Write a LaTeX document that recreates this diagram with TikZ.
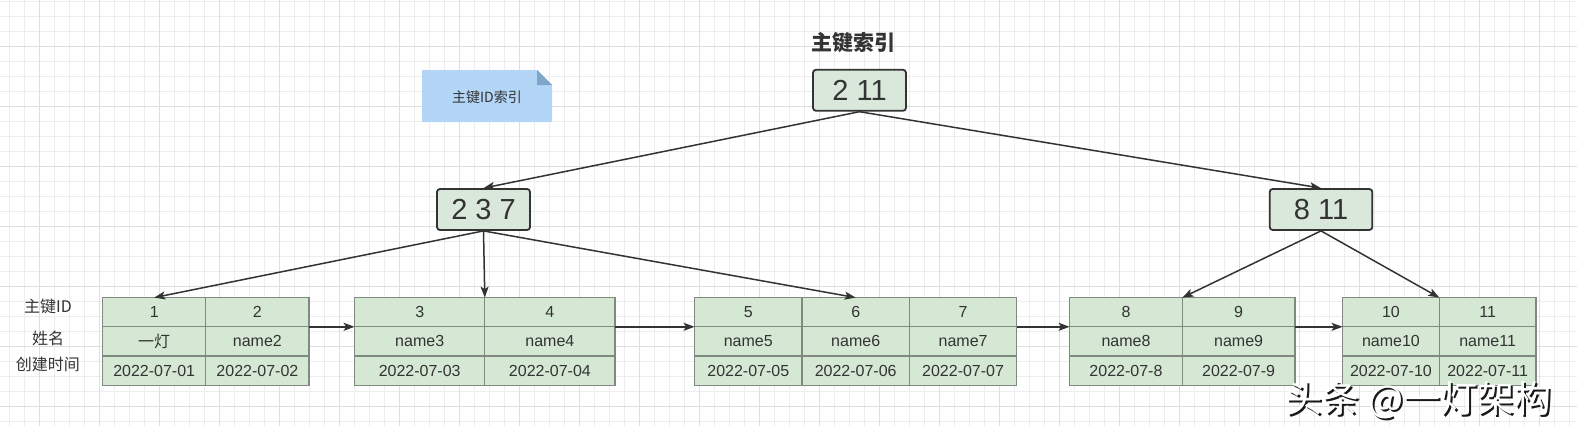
\documentclass[tikz,border=0pt]{standalone}
\usepackage{fontspec}
\setmainfont{Liberation Sans}
\newfontfamily\cjk{Noto Sans CJK SC}
\usetikzlibrary{arrows.meta}

\definecolor{ink}{HTML}{333333}
\definecolor{leafgreen}{HTML}{D5E8D4}
\definecolor{leafline}{HTML}{808A80}
\definecolor{keygreen}{HTML}{DAE8DB}
\definecolor{noteblue}{HTML}{B3D6F7}
\definecolor{notefold}{HTML}{7EA6CB}
\definecolor{gridminor}{HTML}{EDEDED}
\definecolor{gridmajor}{HTML}{DEDEDE}

\begin{document}
\begin{tikzpicture}
	[x=1pt, y=-1pt,
		keybox/.style	={rectangle
									, rounded corners=3pt
									, draw=ink
									, line width=1.8pt, fill=keygreen
									, minimum width=93pt
									, minimum height=41pt
									, text=ink
									, font=\fontsize{29}{32}\selectfont
									},
		cell/.style		={rectangle
									, draw=leafline
									, line width=1.2pt, fill=leafgreen
									, minimum height=29.2pt
									, inner sep=1pt, outer sep=0pt
									, text=ink
									, font=\fontsize{16}{18}\selectfont
									},
		leaf/.style		={matrix
									, inner sep=0pt, outer sep=0pt
									, column sep=-1.2pt, row sep=-1.2pt
									, anchor=north west
									, nodes={cell}
									},
		rowname/.style	={text=ink
									, font=\cjk\fontsize{16}{18}\selectfont
									},
		line/.style		 	={draw
									, ink
									, line width=1.5pt
									, -{Stealth[length=11pt,width=8pt,inset=2.5pt]}
									},
		watermark/.style	={font=\cjk\fontsize{37}{40}\selectfont
									}
	]
\useasboundingbox (0,0) rectangle (1577,426);
% grid
\foreach \gx in {9.3,24.3,...,1577}
	\draw[gridminor, line width=0.8pt] (\gx,0) -- (\gx,426);
\foreach \gy in {1,16,...,426}
	\draw[gridminor, line width=0.8pt] (0,\gy) -- (1577,\gy);
\foreach \gx in {39.3,99.3,...,1577}
	\draw[gridmajor, line width=1pt] (\gx,0) -- (\gx,426);
\foreach \gy in {46,106,...,426}
	\draw[gridmajor, line width=1pt] (0,\gy) -- (1577,\gy);

% note
\fill[noteblue] (422,70) -- (537,70) -- (552,85) -- (552,122) -- (422,122) -- cycle;
\fill[notefold] (537,70) -- (537,85) -- (552,85) -- cycle;
\node [text=ink, font=\cjk\fontsize{14}{16}\selectfont] (note) at (487,97) {主键ID索引};

% index nodes
\node [text=ink, font=\cjk\bfseries\fontsize{21}{24}\selectfont] (title) at (853,43) {主键索引};
\node [keybox] (root) at (859.5,90.3) {2 11};
\node [keybox] (n237) at (483.5,209.5) {2 3 7};
\node [keybox, minimum width=102.6pt] (n811) at (1321,209.5) {8 11};

% row names
\node [rowname] (rowid)   at (48,306.7) {主键ID};
\node [rowname] (rowname) at (48,338)   {姓名};
\node [rowname] (rowtime) at (48,364)   {创建时间};

% leaves
\matrix [leaf, nodes={minimum width=103.2pt}] (leaf1) at (102,297)
	{
		\node (k1) {1}; & \node (k2) {2}; \\
		\node (n1) {\cjk 一灯}; & \node (n2) {name2}; \\
		\node (d1) {2022-07-01}; & \node (d2) {2022-07-02}; \\
	};
\matrix [leaf, nodes={minimum width=130.2pt}] (leaf2) at (354,297)
	{
		\node (k3) {3}; & \node (k4) {4}; \\
		\node (n3) {name3}; & \node (n4) {name4}; \\
		\node (d3) {2022-07-03}; & \node (d4) {2022-07-04}; \\
	};
\matrix [leaf, nodes={minimum width=107.4pt}] (leaf3) at (694,297)
	{
		\node (k5) {5}; & \node (k6) {6}; & \node (k7) {7}; \\
		\node (n5) {name5}; & \node (n6) {name6}; & \node (n7) {name7}; \\
		\node (d5) {2022-07-05}; & \node (d6) {2022-07-06}; & \node (d7) {2022-07-07}; \\
	};
\matrix [leaf, nodes={minimum width=112.7pt}] (leaf4) at (1069,297)
	{
		\node (k8) {8}; & \node (k9) {9}; \\
		\node (n8) {name8}; & \node (n9) {name9}; \\
		\node (d8) {2022-07-8}; & \node (d9) {2022-07-9}; \\
	};
\matrix [leaf, nodes={minimum width=96.7pt}] (leaf5) at (1342,297)
	{
		\node (k10) {10}; & \node (k11) {11}; \\
		\node (n10) {name10}; & \node (n11) {name11}; \\
		\node (d10) {2022-07-10}; & \node (d11) {2022-07-11}; \\
	};

\begin{scope}[every path/.style=line]
	\path	(root.south)		-- (n237.north);
	\path	(root.south)		-- (n811.north);
	\path	(n237.south)		-- (k1.north);
	\path	(n237.south)		-- (k3.north east);
	\path	(n237.south)		-- (k6.north);
	\path	(n811.south)		-- (k8.north east);
	\path	(n811.south)		-- (k10.north east);
	\path	(k2.south east)	-- (k3.south west);
	\path	(k4.south east)	-- (k5.south west);
	\path	(k7.south east)	-- (k8.south west);
	\path	(k9.south east)	-- (k10.south west);
\end{scope}

% watermark
\node [watermark, text=black!90] (markshade) at (1420.5,402.5) {头条 @一灯架构};
\node [watermark, text=white] (mark) at (1418.5,400.5) {头条 @一灯架构};
\end{tikzpicture}
\end{document}
